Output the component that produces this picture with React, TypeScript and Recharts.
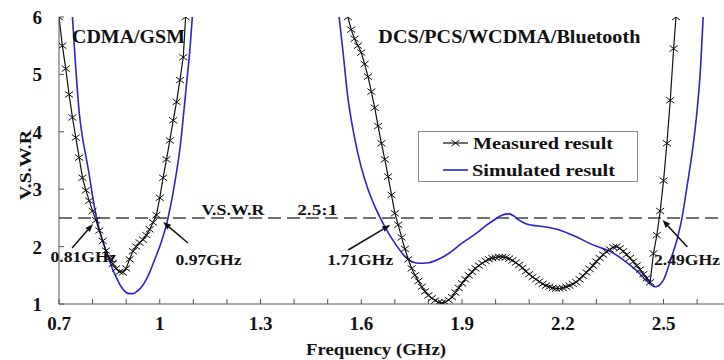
import React from 'react';
import { LineChart, Line, XAxis, YAxis, ReferenceLine, ReferenceDot } from 'recharts';

const FONT = '"Liberation Serif", "Times New Roman", serif';
const INK = '#111';
const BLUE = '#2626c9';
const AXIS = '#555';

// frequency ticks (GHz): minor every 0.1, labelled every 0.3
const xTicks = [0.7, 0.8, 0.9, 1.0, 1.1, 1.2, 1.3, 1.4, 1.5, 1.6, 1.7, 1.8, 1.9, 2.0, 2.1, 2.2, 2.3, 2.4, 2.5, 2.6];
const xLabels: Record<number, string> = { 7: '0.7', 10: '1', 13: '1.3', 16: '1.6', 19: '1.9', 22: '2.2', 25: '2.5' };
const yTicks = [1, 2, 3, 4, 5, 6];

const seriesNames = ['Measured result', 'Simulated result'];
const vswrLimit = 2.5;

// [frequency GHz, VSWR]
const measuredLow: [number, number][] = [
  [0.70, 6.00], [0.71, 5.50], [0.72, 5.10], [0.73, 4.65], [0.74, 4.25], [0.75, 3.90], [0.76, 3.55],
  [0.77, 3.20], [0.78, 2.98], [0.79, 2.80], [0.80, 2.62], [0.81, 2.46], [0.82, 2.28], [0.83, 2.10],
  [0.84, 1.93], [0.85, 1.80], [0.86, 1.70], [0.87, 1.62], [0.88, 1.56], [0.89, 1.55], [0.90, 1.62],
  [0.91, 1.78], [0.92, 1.92], [0.93, 2.00], [0.94, 2.07], [0.95, 2.12], [0.96, 2.20], [0.97, 2.30],
  [0.98, 2.42], [0.99, 2.55], [1.00, 2.85], [1.01, 3.20], [1.02, 3.52], [1.03, 3.85], [1.04, 4.20],
  [1.05, 4.52], [1.06, 4.90], [1.07, 5.30], [1.077, 6.00],
];

const measuredHigh: [number, number][] = [
  [1.56, 6.00], [1.57, 5.78], [1.58, 5.62], [1.59, 5.50], [1.60, 5.38], [1.61, 5.18], [1.62, 4.96],
  [1.63, 4.70], [1.64, 4.42], [1.65, 4.10], [1.66, 3.80], [1.67, 3.52], [1.68, 3.22], [1.69, 2.90],
  [1.70, 2.58], [1.71, 2.38], [1.72, 2.16], [1.73, 1.96], [1.74, 1.78], [1.75, 1.62], [1.76, 1.50],
  [1.77, 1.40], [1.78, 1.30], [1.79, 1.22], [1.80, 1.15], [1.81, 1.10], [1.82, 1.06], [1.83, 1.03],
  [1.84, 1.02], [1.85, 1.03], [1.86, 1.07], [1.87, 1.12], [1.88, 1.20], [1.89, 1.28], [1.90, 1.36],
  [1.91, 1.43], [1.92, 1.50], [1.93, 1.56], [1.94, 1.62], [1.95, 1.67], [1.96, 1.71], [1.97, 1.75],
  [1.98, 1.78], [1.99, 1.80], [2.00, 1.81], [2.01, 1.82], [2.02, 1.82], [2.03, 1.81], [2.04, 1.79],
  [2.05, 1.76], [2.06, 1.72], [2.07, 1.68], [2.08, 1.63], [2.09, 1.57], [2.10, 1.52], [2.11, 1.47],
  [2.12, 1.43], [2.13, 1.39], [2.14, 1.35], [2.15, 1.32], [2.16, 1.30], [2.17, 1.28], [2.18, 1.27],
  [2.19, 1.27], [2.20, 1.28], [2.21, 1.30], [2.22, 1.32], [2.23, 1.35], [2.24, 1.38], [2.25, 1.43],
  [2.26, 1.49], [2.27, 1.55], [2.28, 1.61], [2.29, 1.67], [2.30, 1.74], [2.31, 1.80], [2.32, 1.86],
  [2.33, 1.91], [2.34, 1.95], [2.35, 1.99], [2.36, 2.00], [2.37, 1.97], [2.38, 1.92], [2.39, 1.86],
  [2.40, 1.80], [2.41, 1.74], [2.42, 1.67], [2.43, 1.60], [2.44, 1.52], [2.45, 1.45], [2.46, 1.38],
  [2.47, 1.88], [2.48, 2.20], [2.49, 2.62], [2.50, 3.15], [2.51, 3.80], [2.52, 4.55], [2.53, 5.45],
  [2.537, 6.00],
];

const simulatedLow: [number, number][] = [
  [0.74, 6.00], [0.75, 5.10], [0.76, 4.35], [0.77, 3.90], [0.78, 3.58], [0.79, 3.25], [0.80, 2.88],
  [0.81, 2.55], [0.82, 2.30], [0.83, 2.10], [0.84, 1.92], [0.85, 1.76], [0.86, 1.60], [0.87, 1.47],
  [0.88, 1.35], [0.89, 1.26], [0.90, 1.20], [0.91, 1.18], [0.92, 1.18], [0.93, 1.21], [0.94, 1.26],
  [0.95, 1.33], [0.96, 1.43], [0.97, 1.55], [0.98, 1.70], [0.99, 1.85], [1.00, 2.00], [1.01, 2.18],
  [1.02, 2.38], [1.03, 2.65], [1.04, 2.95], [1.05, 3.30], [1.06, 3.70], [1.07, 4.25], [1.08, 4.85],
  [1.09, 5.45], [1.097, 6.00],
];

const simulatedHigh: [number, number][] = [
  [1.534, 6.00], [1.545, 5.43], [1.56, 4.60], [1.58, 3.90], [1.60, 3.38], [1.62, 3.00], [1.645, 2.64],
  [1.67, 2.35], [1.70, 2.06], [1.73, 1.83], [1.75, 1.74], [1.77, 1.71], [1.80, 1.72], [1.83, 1.78],
  [1.86, 1.88], [1.90, 2.06], [1.94, 2.22], [1.97, 2.36], [2.00, 2.48], [2.02, 2.55], [2.04, 2.57],
  [2.055, 2.53], [2.07, 2.46], [2.09, 2.40], [2.11, 2.37], [2.14, 2.35], [2.19, 2.29], [2.24, 2.17],
  [2.29, 2.03], [2.34, 1.92], [2.38, 1.77], [2.42, 1.58], [2.45, 1.40], [2.477, 1.30], [2.50, 1.42],
  [2.52, 1.75], [2.54, 2.12], [2.555, 2.50], [2.57, 3.05], [2.59, 3.85], [2.60, 4.38], [2.61, 5.10],
  [2.618, 6.00],
];

// text notes placed in data coordinates
const notes = [
  { text: 'CDMA/GSM', f: 0.907, v: 5.65, size: 18, len: 113 },
  { text: 'DCS/PCS/WCDMA/Bluetooth', f: 2.041, v: 5.65, size: 18, len: 262 },
  { text: 'V.S.W.R', f: 1.218, v: 2.64, size: 15, len: 63 },
  { text: '2.5:1', f: 1.469, v: 2.64, size: 15, len: 40 },
  { text: '0.81GHz', f: 0.773, v: 1.82, size: 15, len: 66 },
  { text: '0.97GHz', f: 1.145, v: 1.77, size: 15, len: 66 },
  { text: '1.71GHz', f: 1.597, v: 1.77, size: 15, len: 66 },
  { text: '2.49GHz', f: 2.57, v: 1.77, size: 15, len: 66 },
];

// arrows: tail (f, v) -> head (f, v)
const arrows: [number, number, number, number][] = [
  [0.739, 1.976, 0.801, 2.394],
  [1.084, 2.063, 1.010, 2.429],
  [1.561, 1.941, 1.686, 2.376],
  [2.571, 1.993, 2.497, 2.463],
];

const rows = (pts: [number, number][]) => pts.map(([f, v]) => ({ f, v }));

function Cross(props: any) {
  const { cx, cy } = props;
  if (cx == null || cy == null) return null;
  return (
    <path
      d={`M${cx - 4},${cy - 3}L${cx + 4},${cy + 3}M${cx - 4},${cy + 3}L${cx + 4},${cy - 3}`}
      stroke={INK}
      strokeWidth={1}
      fill="none"
    />
  );
}

function Arrow(props: any) {
  const { x1, y1, x2, y2 } = props;
  const a = Math.atan2(y2 - y1, x2 - x1);
  const L = 8;
  const W = 3;
  const bx = x2 - L * Math.cos(a);
  const by = y2 - L * Math.sin(a);
  const p1 = `${bx + W * Math.sin(a)},${by - W * Math.cos(a)}`;
  const p2 = `${bx - W * Math.sin(a)},${by + W * Math.cos(a)}`;
  return (
    <g>
      <line x1={x1} y1={y1} x2={bx} y2={by} stroke={INK} strokeWidth={1.5} />
      <polygon points={`${x2},${y2} ${p1} ${p2}`} fill={INK} />
    </g>
  );
}

function XTick(props: any) {
  const { x, y, payload } = props;
  const label = xLabels[Math.round(payload.value * 10)];
  return (
    <g>
      <line x1={x} x2={x} y1={y} y2={y - 5} stroke={AXIS} />
      {label && (
        <text x={x} y={y + 26} textAnchor="middle" fontFamily={FONT} fontWeight="bold" fontSize={19} fill={INK}>
          {label}
        </text>
      )}
    </g>
  );
}

function YTick(props: any) {
  const { x, y, payload } = props;
  return (
    <g>
      <line x1={x} x2={x + 5} y1={y} y2={y} stroke={AXIS} />
      <text x={x - 17} y={y + 7} textAnchor="end" fontFamily={FONT} fontWeight="bold" fontSize={19} fill={INK}>
        {payload.value}
      </text>
    </g>
  );
}

function Legend() {
  return (
    <svg width={724} height={360} style={{ position: 'absolute', left: 0, top: 0, pointerEvents: 'none' }}>
      <rect x={418.5} y={131.5} width={219} height={50} fill="#fff" stroke="#8a8a8a" />
      <line x1={443} x2={468} y1={143} y2={143} stroke={INK} strokeWidth={1.2} />
      <Cross cx={455.5} cy={143} />
      <text x={473} y={143} dominantBaseline="central" fontFamily={FONT} fontWeight="bold" fontSize={17}
        fill={INK} textLength={140} lengthAdjust="spacingAndGlyphs">{seriesNames[0]}</text>
      <line x1={443} x2={468} y1={170} y2={170} stroke={BLUE} strokeWidth={1.6} />
      <text x={472} y={170} dominantBaseline="central" fontFamily={FONT} fontWeight="bold" fontSize={17}
        fill={INK} textLength={143} lengthAdjust="spacingAndGlyphs">{seriesNames[1]}</text>
    </svg>
  );
}

export default function App() {
  return (
    <div style={{ position: 'absolute', left: 0, top: 0, width: 724, height: 360, background: '#fff' }}>
      <LineChart width={724} height={360} margin={{ top: 17, right: 0, bottom: 0, left: 0 }}>
        <XAxis
          type="number"
          dataKey="f"
          domain={[0.7, 2.68]}
          allowDataOverflow
          ticks={xTicks}
          interval={0}
          height={56}
          tickSize={0}
          tickMargin={0}
          tickLine={false}
          axisLine={{ stroke: AXIS }}
          tick={(p: any) => <XTick {...p} />}
          label={(p: any) => (
            <text x={p.viewBox.x + 317} y={p.viewBox.y + 45} textAnchor="middle" dominantBaseline="central"
              fontFamily={FONT} fontWeight="bold" fontSize={16} fill={INK} textLength={140} lengthAdjust="spacingAndGlyphs">
              Frequency (GHz)
            </text>
          )}
        />
        <YAxis
          type="number"
          domain={[1, 6]}
          allowDataOverflow
          ticks={yTicks}
          interval={0}
          width={59}
          tickSize={0}
          tickMargin={0}
          tickLine={false}
          axisLine={{ stroke: AXIS }}
          tick={(p: any) => <YTick {...p} />}
          label={(p: any) => {
            const cx = p.viewBox.x + 25;
            const cy = p.viewBox.y + 148;
            return (
              <text x={cx} y={cy} transform={`rotate(-90 ${cx} ${cy})`} textAnchor="middle" dominantBaseline="central"
                fontFamily={FONT} fontWeight="bold" fontSize={17} fill={INK} textLength={70} lengthAdjust="spacingAndGlyphs">
                V.S.W.R
              </text>
            );
          }}
        />
        <ReferenceLine y={vswrLimit} stroke="#444" strokeWidth={1.5} strokeDasharray="13 6" />
        <Line data={rows(simulatedLow)} dataKey="v" type="monotone" stroke={BLUE} strokeWidth={1.6}
          dot={false} activeDot={false} isAnimationActive={false} />
        <Line data={rows(simulatedHigh)} dataKey="v" type="monotone" stroke={BLUE} strokeWidth={1.6}
          dot={false} activeDot={false} isAnimationActive={false} />
        <Line data={rows(measuredLow)} dataKey="v" type="linear" stroke={INK} strokeWidth={1.2}
          dot={(p: any) => <Cross key={p.index} {...p} />} activeDot={false} isAnimationActive={false} />
        <Line data={rows(measuredHigh)} dataKey="v" type="linear" stroke={INK} strokeWidth={1.2}
          dot={(p: any) => <Cross key={p.index} {...p} />} activeDot={false} isAnimationActive={false} />
        {arrows.map(([f1, v1, f2, v2], i) => (
          <ReferenceLine key={`a${i}`} segment={[{ x: f1, y: v1 }, { x: f2, y: v2 }]} shape={(p: any) => <Arrow {...p} />} />
        ))}
        {notes.map((n) => (
          <ReferenceDot
            key={n.text}
            x={n.f}
            y={n.v}
            r={0}
            fill="none"
            stroke="none"
            label={(p: any) => (
              <text x={p.viewBox.x} y={p.viewBox.y} textAnchor="middle" dominantBaseline="central"
                fontFamily={FONT} fontWeight="bold" fontSize={n.size} fill={INK}
                textLength={n.len} lengthAdjust="spacingAndGlyphs">
                {n.text}
              </text>
            )}
          />
        ))}
      </LineChart>
      <Legend />
    </div>
  );
}
